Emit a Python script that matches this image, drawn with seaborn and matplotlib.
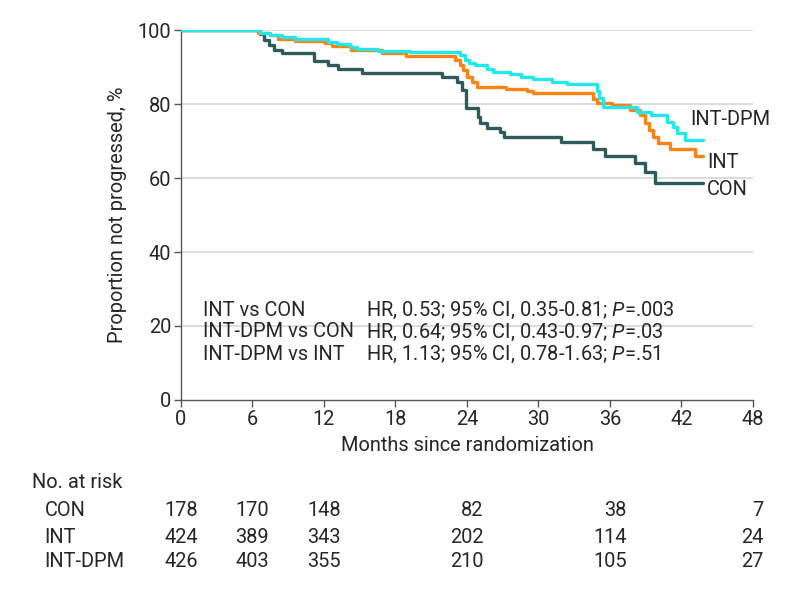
import numpy as np
import pandas as pd
import matplotlib
matplotlib.use("Agg")
import matplotlib.pyplot as plt
import matplotlib.transforms as mtransforms
import seaborn as sns

# step points (months, % not progressed)
con_t = [0, 6.6, 7.0, 7.4, 7.8, 8.5, 11.2, 12.3, 13.2, 15.2, 21.9, 23.2, 23.6, 23.9,
         24.9, 25.1, 25.7, 26.8, 27.1, 31.9, 34.6, 35.6, 38.1, 38.9, 39.8, 43.8]
con_s = [100, 98.9, 97.3, 96.0, 94.6, 93.7, 91.7, 90.5, 89.4, 88.5, 87.4, 86.0, 83.8, 78.9,
         76.5, 74.9, 73.5, 72.4, 71.1, 69.8, 67.8, 65.9, 64.0, 61.6, 58.6, 58.6]

int_t = [0, 6.5, 7.5, 8.1, 9.6, 12.1, 12.7, 14.3, 16.9, 18.9, 23.0, 23.4, 23.7, 24.0,
         24.4, 24.8, 27.3, 29.0, 29.5, 34.6, 34.9, 36.2, 37.7, 38.5, 38.9, 39.3,
         39.6, 40.0, 41.0, 43.1, 43.8]
int_s = [100, 99.3, 98.6, 97.5, 97.1, 96.4, 95.7, 94.6, 93.7, 92.9, 91.9, 90.5, 89.2, 87.4,
         86.0, 84.5, 84.1, 83.6, 82.9, 81.3, 80.4, 79.7, 78.4, 77.0, 74.9, 73.0,
         71.1, 69.5, 67.9, 66.0, 66.0]

dpm_t = [0, 6.6, 7.5, 8.5, 9.6, 12.3, 13.1, 14.2, 14.8, 16.5, 19.2, 23.4, 23.8, 24.2,
         24.7, 25.7, 26.2, 27.6, 28.5, 29.5, 31.1, 32.4, 34.9, 35.1, 35.4, 38.3,
         39.4, 40.8, 41.3, 41.6, 42.3, 43.8]
dpm_s = [100, 99.3, 98.6, 98.0, 97.7, 96.8, 96.2, 95.3, 94.8, 94.4, 94.0, 93.2, 92.0, 91.0,
         90.5, 89.6, 88.7, 88.1, 87.4, 86.9, 86.0, 85.4, 83.5, 81.5, 79.2, 77.8,
         77.0, 75.2, 73.9, 72.2, 70.3, 70.3]

groups = ["CON", "INT", "INT-DPM"]
colors = ["#2d5b5b", "#fb8214", "#22e8ee"]

risk_times = [0, 6, 12, 24, 36, 48]
risk_con = [178, 170, 148, 82, 38, 7]
risk_int = [424, 389, 343, 202, 114, 24]
risk_dpm = [426, 403, 355, 210, 105, 27]

hr_labels = ["INT vs CON", "INT-DPM vs CON", "INT-DPM vs INT"]
hr_texts = ["HR, 0.53; 95% CI, 0.35-0.81; $P$=.003",
            "HR, 0.64; 95% CI, 0.43-0.97; $P$=.03",
            "HR, 1.13; 95% CI, 0.78-1.63; $P$=.51"]

sns.set_theme(style="white")
plt.rcParams['font.family'] = ['Roboto', 'DejaVu Sans']
plt.rcParams['mathtext.fontset'] = 'custom'
plt.rcParams['mathtext.rm'] = 'Roboto'
plt.rcParams['mathtext.it'] = 'Roboto:italic'

fs = 14.4
fig = plt.figure(figsize=(7.98, 5.89), dpi=100)
ax = fig.add_axes([0.2268, 0.3209, 0.7168, 0.6281])

curves = [(con_t, con_s), (int_t, int_s), (dpm_t, dpm_s)]
for (t, s), g, c in zip(curves, groups, colors):
    df = pd.DataFrame({"t": t, "s": s})
    sns.lineplot(data=df, x="t", y="s", ax=ax, color=c, lw=2.4,
                 drawstyle="steps-post", estimator=None, sort=False, zorder=3)

ax.set_xlim(0, 48)
ax.set_ylim(0, 100)
ax.set_xticks(range(0, 49, 6))
ax.set_yticks(range(0, 101, 20))
for yv in range(20, 101, 20):
    ax.axhline(yv, color="#d9d9d9", lw=1.3, zorder=1)
for side in ["top", "right"]:
    ax.spines[side].set_visible(False)
for side in ["left", "bottom"]:
    ax.spines[side].set_color("#555555")
    ax.spines[side].set_linewidth(1.0)
ax.tick_params(axis="both", direction="out", length=5, width=1, color="#555555",
               labelsize=fs, pad=2, bottom=True, left=True)
ax.set_xlabel("Months since randomization", fontsize=fs, labelpad=5)
ax.set_ylabel("Proportion not progressed, %", fontsize=fs, labelpad=8)

# end-of-curve labels
ax.text(42.7, 75.7, "INT-DPM", fontsize=fs, va="center", ha="left")
ax.text(44.2, 64.3, "INT", fontsize=fs, va="center", ha="left")
ax.text(44.1, 56.8, "CON", fontsize=fs, va="center", ha="left")

hr_y = [24.3, 18.4, 12.2]
for lab, txt, yy in zip(hr_labels, hr_texts, hr_y):
    ax.text(1.85, yy, lab, fontsize=fs, va="center", ha="left")
    ax.text(15.5, yy, txt, fontsize=fs, va="center", ha="left")

# number at risk table
trans = mtransforms.blended_transform_factory(ax.transData, fig.transFigure)
fig.text(0.040, 0.180, "No. at risk", fontsize=fs, va="center", ha="left")
rows = [risk_con, risk_int, risk_dpm]
row_y = [0.134, 0.088, 0.046]
for g, vals, yy in zip(groups, rows, row_y):
    fig.text(0.056, yy, g, fontsize=fs, va="center", ha="left")
    for tt, v in zip(risk_times, vals):
        off = 1.4 if tt < 48 else 0.85
        ax.text(tt + off, yy, str(v), fontsize=fs, va="center", ha="right",
                transform=trans, clip_on=False)

fig.savefig("out.png", dpi=100)
